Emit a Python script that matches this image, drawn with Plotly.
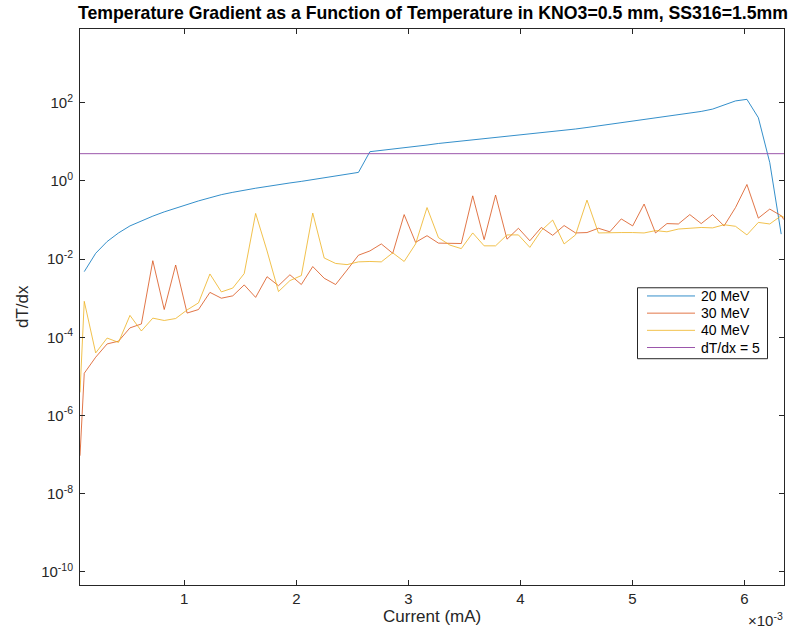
import plotly.graph_objects as go

# Current values (in units of 1e-3 mA, shown with the x10^-3 multiplier)
current_e3 = [0.069, 0.107, 0.209, 0.311, 0.413, 0.515, 0.617, 0.719, 0.821, 0.923,
              1.025, 1.127, 1.229, 1.331, 1.433, 1.535, 1.637, 1.739, 1.841, 1.943,
              2.045, 2.147, 2.249, 2.351, 2.453, 2.555, 2.657, 2.759, 2.861, 2.963,
              3.065, 3.167, 3.269, 3.371, 3.473, 3.575, 3.677, 3.779, 3.881, 3.983,
              4.085, 4.187, 4.289, 4.391, 4.493, 4.595, 4.697, 4.799, 4.901, 5.003,
              5.105, 5.207, 5.309, 5.411, 5.513, 5.615, 5.717, 5.819, 5.921, 6.023,
              6.125, 6.227, 6.329, 6.354]

mev20 = [None, 4.79e-3, 1.41e-2, 2.82e-2, 4.68e-2, 7.08e-2, 9.55e-2, 0.126, 0.162, 0.204,
         0.257, 0.309, 0.372, 0.447, 0.513, 0.589, 0.653, 0.724, 0.813, 0.891,
         0.977, 1.096, 1.202, 1.349, 1.514, 1.660, 5.62, 6.03, 6.61, 7.08,
         7.59, 8.32, 9.12, 9.77, 10.5, 11.2, 12.0, 12.9, 13.8, 14.8,
         15.8, 17.0, 18.2, 20.0, 21.4, 23.4, 25.7, 27.5, 30.2, 33.1,
         36.3, 39.8, 44.7, 49.0, 55.0, 60.3, 69.2, 87.1, 112.0, 123.0,
         41.7, 2.95, 0.0437, None]

mev30 = [9.3e-8, 1.20e-5, 3.09e-5, 6.76e-5, 7.94e-5, 1.74e-4, 2.19e-4, 9.12e-3, 5.13e-4, 7.08e-3,
         4.17e-4, 5.13e-4, 1.41e-3, 1.00e-3, 1.15e-3, 2.19e-3, 1.05e-3, 3.55e-3, 2.09e-3, 3.98e-3,
         2.24e-3, 6.46e-3, 3.24e-3, 2.24e-3, 5.25e-3, 1.26e-2, 1.62e-2, 2.45e-2, 1.41e-2, 0.138,
         2.69e-2, 3.98e-2, 2.57e-2, 2.57e-2, 2.51e-2, 0.417, 3.16e-2, 0.437, 3.24e-2, 6.17e-2,
         2.95e-2, 6.46e-2, 4.07e-2, 7.24e-2, 4.68e-2, 4.79e-2, 6.17e-2, 5.01e-2, 0.107, 7.08e-2,
         0.257, 4.68e-2, 8.13e-2, 7.94e-2, 0.138, 8.13e-2, 0.138, 7.08e-2, 0.209, 0.813,
         0.112, 0.191, 0.129, 0.102]

mev40 = [3.89e-6, 8.32e-4, 3.98e-5, 9.55e-5, 7.41e-5, 3.63e-4, 1.45e-4, 3.09e-4, 2.69e-4, 3.02e-4,
         5.01e-4, 7.59e-4, 4.17e-3, 1.45e-3, 1.82e-3, 4.27e-3, 0.148, 1.62e-2, 1.48e-3, 2.82e-3,
         3.80e-3, 0.151, 1.07e-2, 7.76e-3, 7.24e-3, 8.51e-3, 8.71e-3, 8.51e-3, 1.45e-2, 8.71e-3,
         2.45e-2, 0.209, 3.55e-2, 2.29e-2, 1.86e-2, 4.68e-2, 2.19e-2, 2.19e-2, 4.17e-2, 4.17e-2,
         2.00e-2, 5.37e-2, 0.100, 2.45e-2, 4.17e-2, 0.324, 4.68e-2, 4.79e-2, 4.79e-2, 4.79e-2,
         4.68e-2, 5.37e-2, 5.01e-2, 5.89e-2, 6.17e-2, 6.46e-2, 6.31e-2, 7.59e-2, 6.92e-2, 4.17e-2,
         8.71e-2, 7.94e-2, 0.129, 0.117]

threshold = [5.0] * len(current_e3)

names = ["20 MeV", "30 MeV", "40 MeV", "dT/dx = 5"]
colors = ["#0072BD", "#D95319", "#EDB120", "#9B56AB"]
widths = [0.8, 0.8, 0.8, 1.0]

x_ticks = [1, 2, 3, 4, 5, 6]
y_tick_exps = [-10, -8, -6, -4, -2, 0, 2]

FONT = "Liberation Sans, Arial, Helvetica, sans-serif"
AX = "#262626"

# plot area in pixels
L, R, T, B = 80, 784, 28.5, 585
PW, PH = R - L, B - T

def px(xp):
    return (xp - L) / PW

def py(yp):
    return (B - yp) / PH

fig = go.Figure()
for ys, nm, c, w in zip([mev20, mev30, mev40, threshold], names, colors, widths):
    fig.add_trace(go.Scatter(x=current_e3, y=ys, mode="lines", name=nm,
                             line=dict(color=c, width=w), showlegend=False))

fig.update_layout(
    width=793, height=632,
    margin=dict(l=L, r=793 - R, t=T, b=632 - B),
    paper_bgcolor="white", plot_bgcolor="white",
    font=dict(family=FONT, size=14, color=AX),
    title=dict(text="<b>Temperature Gradient as a Function of Temperature in KNO3=0.5 mm, SS316=1.5mm</b>",
               x=(433) / 793, xanchor="center", y=1 - 13 / 632, yanchor="middle",
               font=dict(family=FONT, size=17.7, color="black")),
    showlegend=False,
)

fig.update_xaxes(
    range=[0.069, 6.354],
    tickvals=x_ticks, ticktext=[str(t) for t in x_ticks],
    ticks="inside", ticklen=5, tickcolor=AX,
    showline=True, linecolor=AX, linewidth=1, mirror="allticks",
    showgrid=False, zeroline=False,
    tickfont=dict(family=FONT, size=15, color=AX),
)
fig.update_yaxes(
    type="log", range=[-10.34, 3.89],
    tickvals=[10.0 ** e for e in y_tick_exps],
    ticktext=["10<sup>%d</sup>" % e for e in y_tick_exps],
    ticks="inside", ticklen=5, tickcolor=AX,
    showline=True, linecolor=AX, linewidth=1, mirror="allticks",
    showgrid=False, zeroline=False,
    tickfont=dict(family=FONT, size=15, color=AX),
    ticklabelstandoff=3,
)

fig.add_annotation(text="Current (mA)", xref="paper", yref="paper",
                   x=0.5, y=py(617), xanchor="center", yanchor="middle",
                   showarrow=False, font=dict(family=FONT, size=17, color=AX))
fig.add_annotation(text="dT/dx", xref="paper", yref="paper", textangle=-90,
                   x=px(22), y=0.5, xanchor="center", yanchor="middle",
                   showarrow=False, font=dict(family=FONT, size=17, color=AX))
fig.add_annotation(text="\u00d710<sup>-3</sup>", xref="paper", yref="paper",
                   x=px(785), y=py(620), xanchor="right", yanchor="middle",
                   showarrow=False, font=dict(family=FONT, size=15, color=AX))

# legend box (drawn to match MATLAB's compact legend)
leg_x0, leg_x1, leg_y0, leg_y1 = 637.5, 767.5, 287.5, 358.5
fig.add_shape(type="rect", xref="paper", yref="paper",
              x0=px(leg_x0), x1=px(leg_x1), y0=py(leg_y1), y1=py(leg_y0),
              line=dict(color=AX, width=1), fillcolor="white", layer="above")
row_y = [295.7, 312.9, 330.1, 347.3]
for nm, c, w, ry in zip(names, colors, widths, row_y):
    fig.add_shape(type="line", xref="paper", yref="paper",
                  x0=px(647), x1=px(695), y0=py(ry), y1=py(ry),
                  line=dict(color=c, width=w), layer="above")
    fig.add_annotation(text=nm, xref="paper", yref="paper",
                       x=px(699), y=py(ry), xanchor="left", yanchor="middle",
                       showarrow=False, font=dict(family=FONT, size=14, color="black"))

fig.write_html("out.html")
